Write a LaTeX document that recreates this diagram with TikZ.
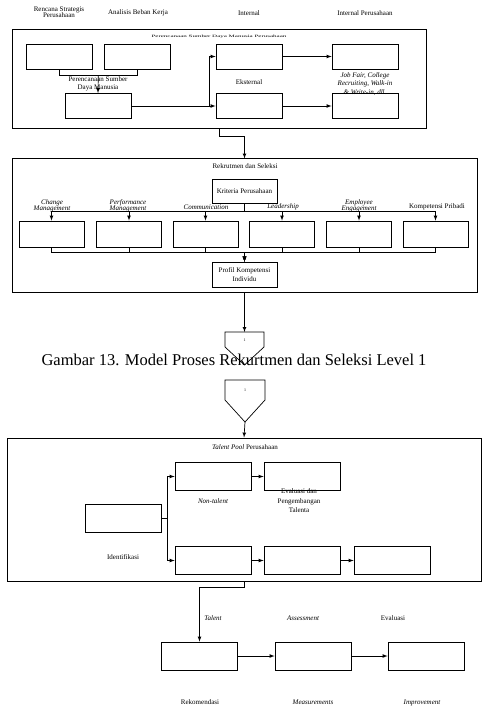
\documentclass[tikz,border=0pt]{standalone}
\usepackage{fontspec}
\setmainfont{Liberation Serif}
\usepackage{tikz}
\tikzset{>=latex,
    frame/.style={draw, line width=1pt, inner sep=0pt},
    box/.style={draw, line width=0.8pt, minimum width=66pt, minimum height=25pt, inner sep=0pt},
    tbox/.style={box, minimum width=76pt, minimum height=28pt},
    lbl/.style={font=\fontsize{7}{8.5}\selectfont, align=center, inner sep=0pt},
    line/.style={line width=0.7pt}}
\usetikzlibrary{calc}

\begin{document}
\begin{tikzpicture}[x=1pt, y=-1pt]
    \useasboundingbox (0,0) rectangle (482,708);
    % level 1: perencanaan
    \node[frame, minimum width=414pt, minimum height=99pt] (f1) at (219,79.5) {};
    \node[lbl] at (219,37) {\scalebox{1}[0.5]{Perencanaan Sumber Daya Manusia Perusahaan}};
    \node[box] (rsp) at (59,56.5) {};
    \node[box] (abk) at (137.5,56.5) {};
    \node[box] (psdm) at (98,106) {};
    \node[box] (int) at (249,56.5) {};
    \node[box] (eks) at (249,106) {};
    \node[box] (intp) at (365,56.5) {};
    \node[box] (jf) at (365,106) {};
    \node[lbl, font=\fontsize{7}{6.5}\selectfont] at (59,12) {Rencana Strategis\\Perusahaan};
    \node[lbl] at (138,13) {Analisis Beban Kerja};
    \node[lbl] at (249,13) {Internal};
    \node[lbl] at (365,13) {Internal Perusahaan};
    \node[lbl, font=\fontsize{7}{7.5}\selectfont] at (98,84) {Perencanaan Sumber\\Daya Manusia};
    \node[lbl] at (249,82) {Eksternal};
    \node[lbl, font=\fontsize{7}{8.5}\selectfont\itshape] at (365,84) {Job Fair, College\\Recruiting, Walk-in\\\& Write-in, dll.};
    \coordinate (ab) at ($(rsp.south)!0.5!(abk.south)+(0,6)$);
    \draw[line] (rsp.south) -- ++(0,6) -| (abk.south);
    \draw[line, ->] (ab) -- (psdm.north);
    \draw[line, ->] (psdm.east) -- (eks.west);
    \draw[line, ->] ($(psdm.east)+(78,0)$) |- (int.west);
    \draw[line, ->] (int) -- (intp);
    \draw[line, ->] (eks) -- (jf);
    % rekrutmen dan seleksi
    \node[frame, minimum width=465pt, minimum height=133pt] (f2) at (244.5,225.5) {};
    \draw[line, ->] (f1.south) -- ++(0,7) -| (f2.north);
    \node[lbl] at (245,166) {Rekrutmen dan Seleksi};
    \node[box, minimum width=65pt, minimum height=24pt, lbl] (krit) at (244.5,191.5) {Kriteria Perusahaan};
    \node[box, minimum width=65pt, lbl] (prof) at (244.5,274.5) {Profil Kompetensi\\Individu};
    \foreach \x [count=\i] in {51.5,129,205.5,282,359,435.5}
        \node[box, minimum width=65pt, minimum height=26pt] (k\i) at (\x,234) {};
    \foreach \i in {1,...,6} {
        \draw[line, ->] (krit.south) -- ++(0,7) -| (k\i.north);
        \draw[line, ->] (k\i.south) -- ++(0,5) -| (prof.north);
    }
    \node[lbl, font=\fontsize{7}{6.5}\selectfont\itshape] at (52,206) {Change\\Management};
    \node[lbl, font=\fontsize{7}{6.5}\selectfont\itshape] at (128,206) {Performance\\Management};
    \node[lbl, font=\fontsize{7}{6.5}\selectfont\itshape] at (206,207) {Communication};
    \node[lbl, font=\fontsize{7}{6.5}\selectfont\itshape] at (283,207) {Leadership};
    \node[lbl, font=\fontsize{7}{6.5}\selectfont\itshape] at (359,206) {Employee\\Engagement};
    \node[lbl] at (437,207) {Kompetensi Pribadi};
    % penghubung halaman
    \coordinate (p1) at (244.5,332);
    \draw[line, ->] (f2.south) -- (p1);
    \draw[line] (225,332) -- (264,332) -- (264,347) -- (244.5,365) -- (225,347) -- cycle;
    \node[lbl, font=\fontsize{4}{4}\selectfont] (c1) at (244.5,340) {1};
    \node[inner sep=0pt, font=\fontsize{16.5}{18}\selectfont] (cap) at (234,360) {Gambar 13. Model Proses Rekurtmen dan Seleksi Level 1};
    \draw[line] (225,380) -- (265,380) -- (265,400) -- (245,422) -- (225,400) -- cycle;
    \node[lbl, font=\fontsize{4}{4}\selectfont] (c2) at (245,390) {1};
    \coordinate (p2) at (245,422);
    % talent pool
    \node[frame, minimum width=474pt, minimum height=143pt] (f3) at (244,509.5) {};
    \draw[line, ->] (p2) -- (f3.north);
    \node[lbl] at (245,447) {\textit{Talent Pool} Perusahaan};
    \node[tbox] (idf) at (123,518) {};
    \node[tbox] (nt) at (213,476.5) {};
    \node[tbox] (evp) at (302,476.5) {};
    \node[tbox] (t1) at (213,560.5) {};
    \node[tbox] (t2) at (302,560.5) {};
    \node[tbox] (t3) at (392,560.5) {};
    \node[lbl] at (123,557) {Identifikasi};
    \node[lbl, font=\fontsize{7}{8.5}\selectfont\itshape] at (213,501) {Non-talent};
    \node[lbl, font=\fontsize{7}{9.5}\selectfont] at (299,501) {Evaluasi dan\\Pengembangan\\Talenta};
    \draw[line, ->] (idf.east) -- ++(6,0) |- (nt.west);
    \draw[line, ->] (idf.east) -- ++(6,0) |- (t1.west);
    \draw[line, ->] (nt) -- (evp);
    \draw[line, ->] (t1) -- (t2);
    \draw[line, ->] (t2) -- (t3);
    % rekomendasi
    \node[tbox] (rek) at (199.5,656) {};
    \node[tbox] (mea) at (313,656) {};
    \node[tbox] (imp) at (426,656) {};
    \draw[line, ->] (f3.south) -- ++(0,6) -| (rek.north);
    \draw[line, ->] (rek) -- (mea);
    \draw[line, ->] (mea) -- (imp);
    \node[lbl, font=\fontsize{7}{8.5}\selectfont\itshape] at (213,618) {Talent};
    \node[lbl, font=\fontsize{7}{8.5}\selectfont\itshape] at (303,618) {Assessment};
    \node[lbl] at (393,618) {Evaluasi};
    \node[lbl, anchor=base] at (200,704) {Rekomendasi};
    \node[lbl, anchor=base, font=\fontsize{7}{8.5}\selectfont\itshape] at (313,704) {Measurements};
    \node[lbl, anchor=base, font=\fontsize{7}{8.5}\selectfont\itshape] at (422,704) {Improvement};
\end{tikzpicture}
\end{document}
